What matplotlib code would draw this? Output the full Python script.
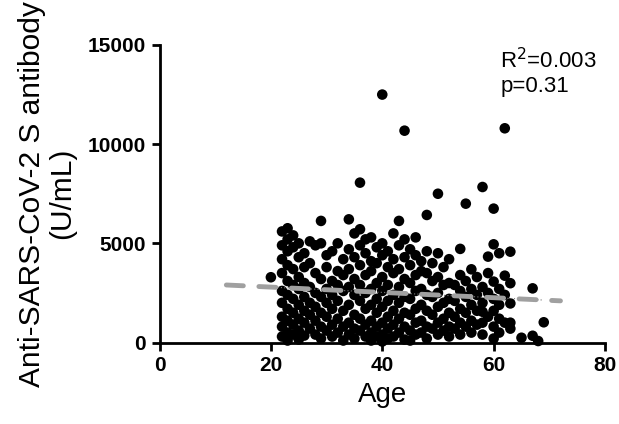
import numpy as np
import matplotlib
matplotlib.use("Agg")
import matplotlib.pyplot as plt

plt.rcParams['font.family'] = ['Liberation Sans', 'DejaVu Sans']

# antibody titre (U/mL) by age
points = {
    20: [3290],
    22: [5600, 4900, 4200, 3500, 2600, 2000, 1300, 800, 300],
    23: [5760, 5200, 4600, 3900, 3100, 2400, 1700, 1100, 500, 100],
    24: [5400, 4800, 3700, 2900, 2200, 1500, 900, 400],
    25: [5000, 4300, 3300, 2700, 1900, 1200, 600, 150],
    26: [4500, 3800, 3000, 2300, 1600, 1000, 350],
    27: [5100, 4000, 2800, 2000, 1400, 700],
    28: [4900, 3500, 2500, 1800, 1100, 400],
    29: [6130, 5000, 3200, 2300, 1500, 800, 200],
    30: [4400, 3800, 2700, 2000, 1300, 600],
    31: [4600, 3100, 2400, 1700, 900, 300],
    32: [5000, 3600, 2900, 2100, 1200, 500],
    33: [4200, 3400, 2600, 1600, 800, 100],
    34: [6210, 4700, 3700, 2800, 1900, 1000, 400],
    35: [5500, 4300, 3200, 2400, 1400, 700, 200],
    36: [8060, 5710, 4900, 3900, 2900, 2100, 1200, 600],
    37: [5200, 4500, 3400, 2500, 1700, 900, 300],
    38: [5300, 4100, 3600, 2700, 1900, 1100, 500, 100],
    39: [4800, 4000, 3000, 2200, 1500, 800, 300],
    40: [12500, 5000, 4400, 3300, 2600, 1800, 1000, 400, 50],
    41: [4600, 3800, 2900, 2100, 1300, 700, 200],
    42: [5500, 4200, 3500, 2400, 1600, 900, 300],
    43: [6130, 4900, 3700, 2800, 2000, 1200, 500],
    44: [10680, 5200, 4300, 3200, 2300, 1500, 800, 150],
    45: [4700, 3900, 3000, 2200, 1400, 600, 100],
    46: [5300, 4400, 3400, 2600, 1700, 1000, 400],
    47: [4100, 3600, 2700, 1900, 1100, 500],
    48: [6430, 4600, 3500, 2400, 1600, 800, 200],
    49: [4000, 3100, 2300, 1400, 700],
    50: [7500, 4500, 3300, 2500, 1800, 1000, 400],
    51: [3800, 2900, 2000, 1200, 600],
    52: [4200, 3000, 2200, 1500, 800, 300],
    53: [2900, 2100, 1300, 700],
    54: [4720, 3400, 2600, 1700, 1000, 400],
    55: [7000, 3100, 2300, 1500, 800],
    56: [3690, 2700, 1900, 1100, 500],
    57: [3300, 2400, 1600, 900],
    58: [7840, 2800, 2000, 1550, 1000, 400],
    59: [4330, 3500, 2500, 1300],
    60: [6750, 4950, 3070, 2200, 1600, 800, 200],
    61: [4500, 2700, 1900, 1200, 500],
    62: [10800, 3370, 2400, 1000],
    63: [4580, 2990, 1970, 1000, 700],
    65: [240],
    67: [2730, 340],
    68: [75],
    69: [1020],
}
ages = [a for a, vals in points.items() for _ in vals]
titres = [v for vals in points.values() for v in vals]

# linear fit as drawn in the figure
fit_x = [12, 72]
fit_y = [2900, 2100]
band_x = [20, 69]

fig = plt.figure(figsize=(6.19, 4.24), dpi=100)
ax = fig.add_axes([0.2577, 0.1922, 0.7197, 0.7017])

ax.scatter(ages, titres, s=58, color='black', edgecolors='none', zorder=3, clip_on=False)

slope = (fit_y[1] - fit_y[0]) / (fit_x[1] - fit_x[0])
band_y = [fit_y[0] + slope * (x - fit_x[0]) for x in band_x]
ax.plot(band_x, band_y, color='#777777', lw=0.8, ls=(0, (1, 2)), zorder=4)
ax.plot(fit_x, fit_y, color='#a0a0a0', lw=3.5, ls=(0, (3.5, 3.2)),
        dash_capstyle='round', zorder=5)

ax.set_xlim(0, 80)
ax.set_ylim(0, 15000)
ax.set_xticks([0, 20, 40, 60, 80])
ax.set_yticks([0, 5000, 10000, 15000])
for s in ['top', 'right']:
    ax.spines[s].set_visible(False)
for s in ['left', 'bottom']:
    ax.spines[s].set_linewidth(2)
ax.tick_params(width=2, length=6, labelsize=15, pad=4)
for lab in ax.get_xticklabels() + ax.get_yticklabels():
    lab.set_fontweight('bold')

ax.set_xlabel('Age', fontsize=20, labelpad=5)
ax.set_ylabel('Anti-SARS-CoV-2 S antibody\n(U/mL)', fontsize=21.5, labelpad=8,
              linespacing=1.1)

ax.text(0.765, 0.99, 'R$^2$=0.003\np=0.31', transform=ax.transAxes, fontsize=16,
        va='top', ha='left', linespacing=1.15)

fig.savefig('out.png', dpi=100)
